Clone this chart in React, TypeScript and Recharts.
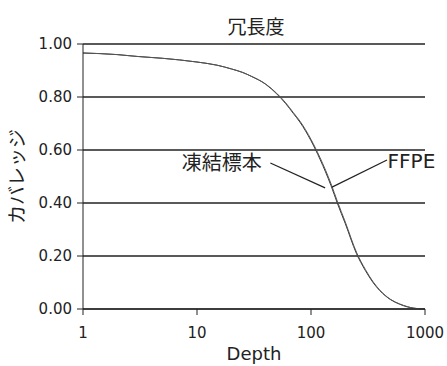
import { CartesianGrid, Line, LineChart, ReferenceDot, ReferenceLine, XAxis, YAxis } from 'recharts';

// Depth (log scale) vs coverage.
const depths = [1, 2, 3, 5, 7, 10, 15, 20, 25, 30, 40, 50, 60, 70, 80, 100, 120, 150, 170, 200, 250, 300, 350, 400, 500, 600, 700, 800, 900, 1000];
const frozen = [0.966, 0.96, 0.953, 0.946, 0.94, 0.932, 0.92, 0.906, 0.893, 0.878, 0.848, 0.812, 0.775, 0.738, 0.705, 0.635, 0.565, 0.465, 0.4, 0.322, 0.21, 0.145, 0.1, 0.07, 0.035, 0.018, 0.008, 0.003, 0.001, 0];
const ffpe = [0.966, 0.96, 0.953, 0.946, 0.94, 0.932, 0.92, 0.906, 0.893, 0.878, 0.849, 0.814, 0.778, 0.741, 0.709, 0.64, 0.571, 0.472, 0.407, 0.328, 0.215, 0.149, 0.103, 0.072, 0.036, 0.019, 0.009, 0.003, 0.001, 0];

const xTicks = [1, 10, 100, 1000];
const yTicks = [0, 0.2, 0.4, 0.6, 0.8, 1.0];

const data = depths.map((d, i) => ({ depth: d, frozen: frozen[i], ffpe: ffpe[i] }));

const font = '"DejaVu Sans", "Noto Sans CJK JP", sans-serif';
const ink = '#222';

export default function App() {
  return (
    <div style={{ position: 'absolute', left: 0, top: 0, width: 447, height: 366, background: '#fff', fontFamily: font }}>
      <div style={{ position: 'absolute', left: 85, width: 342, top: 17, lineHeight: '20px', textAlign: 'center', fontSize: 19, color: ink }}>冗長度</div>
      <LineChart width={447} height={366} data={data} margin={{ top: 44, right: 22, bottom: 0, left: 0 }}>
        <CartesianGrid horizontal vertical={false} stroke={ink} strokeWidth={1.3} />
        <XAxis
          dataKey="depth"
          type="number"
          scale="log"
          domain={[1, 1000]}
          ticks={xTicks}
          allowDataOverflow
          height={57}
          tickSize={6}
          tickMargin={12}
          stroke={ink}
          tick={{ fill: ink, fontSize: 15, fontFamily: font }}
          label={{ value: 'Depth', position: 'insideBottom', offset: 6, fill: ink, fontSize: 18, fontFamily: font }}
        />
        <YAxis
          type="number"
          domain={[0, 1]}
          ticks={yTicks}
          width={83}
          tickSize={6}
          tickMargin={5}
          stroke={ink}
          tickFormatter={(v: number) => v.toFixed(2)}
          tick={{ fill: ink, fontSize: 15, fontFamily: font }}
          label={{ value: 'カバレッジ', angle: -90, position: 'insideLeft', offset: 17, fill: ink, fontSize: 19, fontFamily: font, style: { textAnchor: 'middle' } }}
        />
        <Line dataKey="frozen" type="monotone" stroke="#333" strokeWidth={1} dot={false} isAnimationActive={false} />
        <Line dataKey="ffpe" type="monotone" stroke="#555" strokeWidth={1} dot={false} isAnimationActive={false} />
        <ReferenceLine segment={[{ x: 44, y: 0.551 }, { x: 133, y: 0.457 }]} stroke={ink} strokeWidth={1.2} />
        <ReferenceLine segment={[{ x: 464, y: 0.562 }, { x: 153, y: 0.46 }]} stroke={ink} strokeWidth={1.2} />
        <ReferenceDot x={37} y={0.551} r={0} fill="none" stroke="none"
          label={{ value: '凍結標本', position: 'left', offset: 0, fill: ink, fontSize: 20, fontFamily: font }} />
        <ReferenceDot x={470} y={0.558} r={0} fill="none" stroke="none"
          label={{ value: 'FFPE', position: 'right', offset: 0, fill: ink, fontSize: 20, fontFamily: font }} />
      </LineChart>
    </div>
  );
}
